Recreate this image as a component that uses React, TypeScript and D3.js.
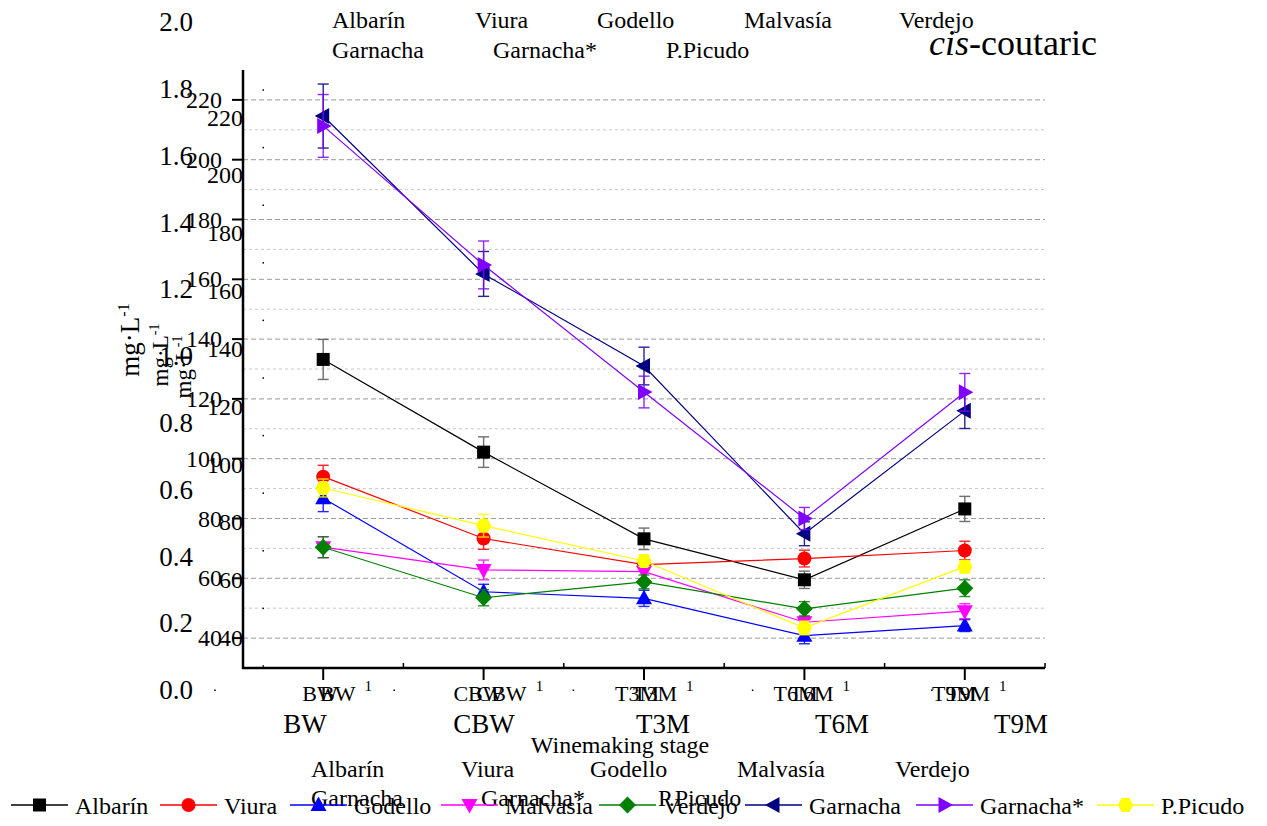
import React from "react";
import * as d3 from "d3";

// Winemaking stages
const categories = ["BW", "CBW", "T3M", "T6M", "T9M"];

// cis-coutaric acid, mg·L-1 (mean and error) per variety
const albarin = [133.2, 102.2, 73.2, 59.5, 83.2];
const albarinErr = [6.7, 5.1, 3.6, 2.9, 4.2];
const viura = [94.0, 73.3, 64.6, 66.6, 69.3];
const viuraErr = [3.8, 3.6, 1.5, 2.8, 3.1];
const godello = [86.8, 55.5, 53.3, 40.8, 44.2];
const godelloErr = [4.5, 2.5, 2.7, 2.7, 2.0];
const malvasia = [70.4, 62.8, 62.2, 45.3, 49.0];
const malvasiaErr = [3.5, 3.3, 2.5, 2.0, 2.5];
const verdejo = [70.4, 53.5, 58.8, 49.8, 56.7];
const verdejoErr = [3.5, 2.7, 2.3, 2.4, 2.8];
const garnacha = [214.6, 161.8, 131.0, 74.9, 116.0];
const garnachaErr = [10.7, 7.5, 6.3, 4.0, 5.9];
const garnachaStar = [211.3, 164.8, 122.3, 80.0, 122.2];
const garnachaStarErr = [10.5, 8.0, 5.3, 3.7, 6.3];
const picudo = [90.2, 77.6, 65.8, 43.4, 63.9];
const picudoErr = [3.0, 3.8, 1.8, 2.3, 2.0];

const seriesNames = ["Albarín", "Viura", "Godello", "Malvasía", "Verdejo", "Garnacha", "Garnacha*", "P.Picudo"];
const seriesValues = [albarin, viura, godello, malvasia, verdejo, garnacha, garnachaStar, picudo];
const seriesErrors = [albarinErr, viuraErr, godelloErr, malvasiaErr, verdejoErr, garnachaErr, garnachaStarErr, picudoErr];

// Axis tick values
const mgTicks = [40, 60, 80, 100, 120, 140, 160, 180, 200, 220];
const mgMinorTicks = [50, 70, 90, 110, 130, 150, 170, 190, 210];
const ratioTicks = [0, 0.2, 0.4, 0.6, 0.8, 1.0, 1.2, 1.4, 1.6, 1.8, 2.0];

// Variety name block (two rows)
const nameRow1 = ["Albarín", "Viura", "Godello", "Malvasía", "Verdejo"];
const nameRow2 = ["Garnacha", "Garnacha*", "P.Picudo"];

// ---- styling / layout ----
const W = 1267;
const H = 826;
const FONT = "'Liberation Serif', 'Times New Roman', serif";
const colors = ["#000000", "#ff0000", "#0000ff", "#ff00ff", "#008000", "#000080", "#8000ff", "#ffff00"];
const shapes = ["square", "circle", "up", "down", "diamond", "left", "right", "hexagon"];
const plot = { left: 243, right: 1045, top: 70, bottom: 668 };
const legendX = [11, 160, 290, 441, 599, 745, 916, 1097];
const legendY = 805;
const topRow1X = [332, 475, 597, 744, 899];
const topRow2X = [332, 493, 666];
const botRow1X = [311, 461, 590, 737, 895];
const botRow2X = [311, 481, 658];

function markerPath(shape: string): string {
  switch (shape) {
    case "square":
      return "M-6.5,-6.5h13v13h-13z";
    case "up":
      return "M0,-8.5L8,6L-8,6Z";
    case "down":
      return "M0,8.5L8,-6L-8,-6Z";
    case "diamond":
      return "M0,-8.5L8.5,0L0,8.5L-8.5,0Z";
    case "left":
      return "M-8.5,0L6,-8L6,8Z";
    case "right":
      return "M8.5,0L-6,-8L-6,8Z";
    case "hexagon":
      return "M7.5,0L4,-7L-4,-7L-7.5,0L-4,7L4,7Z";
    default:
      return "";
  }
}

function Marker({ shape, color, x, y }: { shape: string; color: string; x: number; y: number }) {
  if (shape === "circle") return <circle cx={x} cy={y} r={7} fill={color} />;
  return <path d={markerPath(shape)} transform={`translate(${x},${y})`} fill={color} />;
}

export default function App() {
  const x = d3.scalePoint<string>().domain(categories).range([plot.left, plot.right]).padding(0.5);
  const y = d3.scaleLinear().domain([30, 230]).range([plot.bottom, plot.top]);
  // secondary label layers
  const yB = d3.scaleLinear().domain([40, 220]).range([638, 117.5]);
  const yRatio = d3.scaleLinear().domain([0, 2]).range([690, 22]);
  const xLab1 = d3.scalePoint<string>().domain(categories).range([320, 954]);
  const xLab2 = d3.scalePoint<string>().domain(categories).range([320, 946]);
  const xLab3 = d3.scalePoint<string>().domain(categories).range([305, 1021]);
  const dotRows = d3.range(11).map((i) => d3.scaleLinear().domain([0, 10]).range([90, 666])(i));
  const dotCols = d3.range(5).map((i) => d3.scaleLinear().domain([0, 5]).range([215, 1111])(i));

  const step = x.step();
  const minorX = d3.range(categories.length + 1).map((i) => plot.left + i * step);

  const line = d3
    .line<number>()
    .x((_, i) => x(categories[i]) as number)
    .y((d) => y(d));

  return (
    <svg
      width={W}
      height={H}
      style={{ position: "absolute", left: 0, top: 0, background: "#fff" }}
      fontFamily={FONT}
    >
      <rect width={W} height={H} fill="#fff" />

      {/* grid */}
      {mgMinorTicks.map((t) => (
        <line key={"gm" + t} x1={plot.left} x2={plot.right} y1={y(t)} y2={y(t)} stroke="#c8c8c8" strokeWidth={1} strokeDasharray="3,3" />
      ))}
      {mgTicks.map((t) => (
        <line key={"g" + t} x1={plot.left} x2={plot.right} y1={y(t)} y2={y(t)} stroke="#9a9a9a" strokeWidth={1} strokeDasharray="5,3" />
      ))}

      {/* dotted tick marks */}
      {dotRows.map((yy, i) => (
        <rect key={"dr" + i} x={262.5} y={yy - 0.75} width={1.5} height={1.5} fill="#000" />
      ))}
      {dotCols.map((xx, i) => (
        <rect key={"dc" + i} x={xx - 0.75} y={689.5} width={1.5} height={1.5} fill="#000" />
      ))}

      {/* ratio labels */}
      {ratioTicks.map((t) => (
        <text key={"r" + t} x={193} y={yRatio(t)} dy="0.34em" textAnchor="end" fontSize={27}>
          {t.toFixed(1)}
        </text>
      ))}

      {/* y-axis titles */}
      <text transform="translate(139,340) rotate(-90)" textAnchor="middle" fontSize={27}>
        mg·L<tspan dy={-10} fontSize={16}>-1</tspan>
      </text>
      <text transform="translate(168,355) rotate(-90)" textAnchor="middle" fontSize={23}>
        mg·L<tspan dy={-9} fontSize={14}>-1</tspan>
      </text>
      <text transform="translate(191,367) rotate(-90)" textAnchor="middle" fontSize={23}>
        mg·L<tspan dy={-9} fontSize={14}>-1</tspan>
      </text>

      {/* left axis */}
      <line x1={plot.left} x2={plot.left} y1={plot.top} y2={plot.bottom + 1} stroke="#000" strokeWidth={2.5} />
      {mgTicks.map((t) => (
        <g key={"t" + t}>
          <line x1={plot.left - 11} x2={plot.left} y1={y(t)} y2={y(t)} stroke="#000" strokeWidth={2} />
          <text x={222} y={y(t)} dy="0.34em" textAnchor="end" fontSize={24}>
            {t}
          </text>
          <text x={243} y={yB(t)} dy="0.34em" textAnchor="end" fontSize={24}>
            {t}
          </text>
        </g>
      ))}

      {/* bottom axis */}
      <line x1={plot.left - 1} x2={plot.right} y1={plot.bottom} y2={plot.bottom} stroke="#000" strokeWidth={2.5} />
      {categories.map((c) => (
        <line key={"xt" + c} x1={x(c)} x2={x(c)} y1={plot.bottom} y2={plot.bottom + 12} stroke="#000" strokeWidth={2} />
      ))}
      {minorX.map((mx, i) => (
        <line key={"xm" + i} x1={mx} x2={mx} y1={plot.bottom} y2={plot.bottom - 5} stroke="#000" strokeWidth={1.5} />
      ))}
      {categories.map((c) => (
        <g key={"xl" + c}>
          <text x={xLab1(c)} y={701} textAnchor="middle" fontSize={22}>
            {c}
          </text>
          <text x={xLab2(c)} y={701} textAnchor="start" fontSize={22}>
            {c}
            <tspan dx={9} dy={-10} fontSize={15}>
              1
            </tspan>
          </text>
          <text x={xLab3(c)} y={733} textAnchor="middle" fontSize={27}>
            {c}
          </text>
        </g>
      ))}
      <text x={620} y={753} textAnchor="middle" fontSize={24}>
        Winemaking stage
      </text>

      {/* series */}
      {seriesValues.map((vals, s) => (
        <g key={"s" + s}>
          <path d={line(vals) || ""} fill="none" stroke={colors[s]} strokeWidth={1.2} />
          {vals.map((v, i) => {
            const cx = x(categories[i]) as number;
            const e = seriesErrors[s][i];
            const stroke = s === 0 ? "#555" : colors[s];
            return (
              <g key={"e" + i} stroke={stroke} strokeWidth={1.4} opacity={0.85}>
                <line x1={cx} x2={cx} y1={y(v + e)} y2={y(v - e)} />
                <line x1={cx - 5.5} x2={cx + 5.5} y1={y(v + e)} y2={y(v + e)} />
                <line x1={cx - 5.5} x2={cx + 5.5} y1={y(v - e)} y2={y(v - e)} />
              </g>
            );
          })}
          {vals.map((v, i) => (
            <Marker key={"m" + i} shape={shapes[s]} color={colors[s]} x={x(categories[i]) as number} y={y(v)} />
          ))}
        </g>
      ))}

      {/* variety name block, top */}
      {nameRow1.map((n, i) => (
        <text key={"tr1" + i} x={topRow1X[i]} y={28} fontSize={24}>
          {n}
        </text>
      ))}
      {nameRow2.map((n, i) => (
        <text key={"tr2" + i} x={topRow2X[i]} y={58} fontSize={24}>
          {n}
        </text>
      ))}
      <text x={929} y={55} fontSize={36}>
        <tspan fontStyle="italic">cis</tspan>-coutaric
      </text>

      {/* variety name block, bottom */}
      {nameRow1.map((n, i) => (
        <text key={"br1" + i} x={botRow1X[i]} y={777} fontSize={24}>
          {n}
        </text>
      ))}
      {nameRow2.map((n, i) => (
        <text key={"br2" + i} x={botRow2X[i]} y={806} fontSize={24}>
          {n}
        </text>
      ))}

      {/* legend */}
      {seriesNames.map((n, s) => (
        <g key={"lg" + s}>
          <line x1={legendX[s]} x2={legendX[s] + 57} y1={legendY} y2={legendY} stroke={colors[s]} strokeWidth={1.4} />
          <Marker shape={shapes[s]} color={colors[s]} x={legendX[s] + 28.5} y={legendY} />
          <text x={legendX[s] + 64} y={legendY + 9} fontSize={24}>
            {n}
          </text>
        </g>
      ))}
    </svg>
  );
}
